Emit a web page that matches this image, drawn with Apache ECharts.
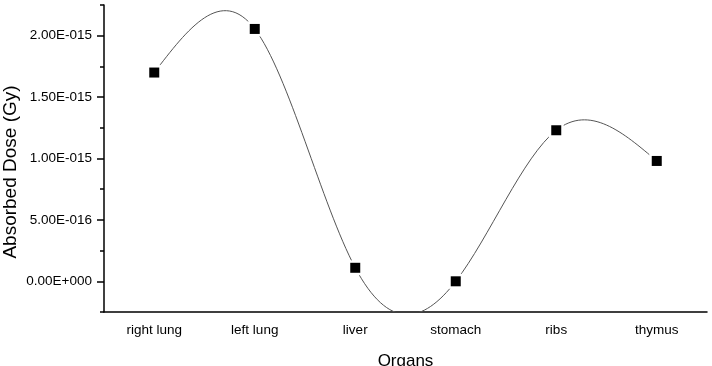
<!DOCTYPE html>
<html>
<head>
<meta charset="utf-8">
<script src="https://cdn.jsdelivr.net/npm/echarts@6/dist/echarts.min.js"></script>
<style>
  html, body { margin: 0; padding: 0; background: #fff; }
  #chart { width: 712px; height: 366px; }
</style>
</head>
<body>
<div id="chart"></div>
<script>
// organs along the x axis
const organs = ['right lung', 'left lung', 'liver', 'stomach', 'ribs', 'thymus'];
// absorbed dose per organ (Gy)
const dose = [1.70e-15, 2.055e-15, 1.1e-16, 0, 1.23e-15, 0.98e-15];
// labelled (major) and unlabelled (minor) y ticks
const majorTicks = [0, 5e-16, 1e-15, 1.5e-15, 2e-15];
const minorTicks = [-2.5e-16, 2.5e-16, 7.5e-16, 1.25e-15, 1.75e-15, 2.25e-15];

const yMin = -2.5e-16;
const yMax = 2.25e-15;
const font = '"Liberation Sans", Arial, sans-serif';

// Origin style: 2.00E-015
function fmtExp(v) {
  if (Math.abs(v) < 1e-30) return '0.00E+000';
  const parts = v.toExponential(2).split('e');
  const e = parseInt(parts[1], 10);
  const sign = e < 0 ? '-' : '+';
  return parts[0].toUpperCase() + 'E' + sign + String(Math.abs(e)).padStart(3, '0');
}

// natural cubic spline through the pixel points (equal x spacing),
// returned as bezier segments
function splineSegments(pts) {
  const n = pts.length;
  const ys = pts.map(p => p[1]);
  const M = new Array(n).fill(0);
  if (n > 2) {
    const c = [], d = [];
    for (let i = 1; i < n - 1; i++) {
      const rhs = 6 * (ys[i + 1] - 2 * ys[i] + ys[i - 1]);
      if (i === 1) {
        c[i] = 1 / 4;
        d[i] = rhs / 4;
      } else {
        const den = 4 - c[i - 1];
        c[i] = 1 / den;
        d[i] = (rhs - d[i - 1]) / den;
      }
    }
    M[n - 2] = d[n - 2];
    for (let i = n - 3; i >= 1; i--) M[i] = d[i] - c[i] * M[i + 1];
  }
  const segs = [];
  for (let i = 0; i < n - 1; i++) {
    const p0 = pts[i], p1 = pts[i + 1];
    const dx = p1[0] - p0[0];
    const dy = p1[1] - p0[1];
    const s0 = dy - (2 * M[i] + M[i + 1]) / 6;
    const s1 = dy + (M[i] + 2 * M[i + 1]) / 6;
    segs.push({
      x1: p0[0], y1: p0[1],
      cpx1: p0[0] + dx / 3, cpy1: p0[1] + s0 / 3,
      cpx2: p1[0] - dx / 3, cpy2: p1[1] - s1 / 3,
      x2: p1[0], y2: p1[1]
    });
  }
  return segs;
}

const chart = echarts.init(document.getElementById('chart'));

const option = {
  backgroundColor: '#fff',
  animation: false,
  grid: { left: 104, right: 5, top: 5, bottom: 54, containLabel: false, outerBoundsMode: 'none' },
  xAxis: [
    {
      type: 'category',
      data: organs,
      boundaryGap: true,
      name: 'Organs',
      nameLocation: 'middle',
      nameGap: 41,
      nameTextStyle: { fontFamily: font, fontSize: 17, color: '#000' },
      axisLine: { onZero: false, lineStyle: { color: '#000', width: 1.5 } },
      axisTick: { alignWithLabel: true, length: 7, lineStyle: { color: '#000', width: 1.5 } },
      axisLabel: { margin: 11, fontFamily: font, fontSize: 13.5, color: '#000' },
      splitLine: { show: false }
    },
    {
      type: 'category',
      data: organs,
      position: 'bottom',
      boundaryGap: true,
      axisLine: { show: false, onZero: false },
      axisTick: { length: 4, lineStyle: { color: '#000', width: 1.5 } },
      axisLabel: { show: false },
      splitLine: { show: false }
    }
  ],
  yAxis: [
    {
      type: 'value',
      min: yMin,
      max: yMax,
      axisLine: { show: true, onZero: false, lineStyle: { color: '#000', width: 1.5 } },
      axisTick: { show: true, length: 7, customValues: majorTicks, lineStyle: { color: '#000', width: 1.5 } },
      axisLabel: {
        customValues: majorTicks,
        margin: 12,
        fontFamily: font,
        fontSize: 13.5,
        color: '#000',
        formatter: fmtExp
      },
      splitLine: { show: false }
    },
    {
      type: 'value',
      min: yMin,
      max: yMax,
      position: 'left',
      axisLine: { show: false, onZero: false },
      axisTick: { show: true, length: 4, customValues: minorTicks, lineStyle: { color: '#000', width: 1.5 } },
      axisLabel: { show: false },
      splitLine: { show: false }
    }
  ],
  graphic: [
    {
      type: 'text',
      x: 11,
      y: 172,
      rotation: Math.PI / 2,
      style: {
        text: 'Absorbed Dose (Gy)',
        font: '19px "Liberation Sans", Arial, sans-serif',
        fill: '#000',
        align: 'center',
        verticalAlign: 'middle'
      }
    }
  ],
  series: [
    {
      // spline curve through the points
      name: 'spline',
      type: 'custom',
      xAxisIndex: 0,
      yAxisIndex: 0,
      data: dose.map((v, i) => [i, v]),
      encode: { x: 0, y: 1 },
      z: 2,
      renderItem: function (params, api) {
        if (params.dataIndex !== 0) return null;
        const pts = dose.map((v, i) => api.coord([i, v]));
        const cs = params.coordSys;
        return {
          type: 'group',
          clipPath: { type: 'rect', shape: { x: cs.x, y: cs.y, width: cs.width, height: cs.height } },
          children: splineSegments(pts).map(s => ({
            type: 'bezierCurve',
            shape: s,
            style: { stroke: '#555', lineWidth: 1, fill: null }
          }))
        };
      }
    },
    {
      // white halo so the curve stops short of each marker
      name: 'halo',
      type: 'scatter',
      data: dose,
      symbol: 'rect',
      symbolSize: 15,
      itemStyle: { color: '#fff', opacity: 1 },
      z: 3,
      silent: true
    },
    {
      name: 'Absorbed Dose',
      type: 'scatter',
      data: dose,
      symbol: 'rect',
      symbolSize: 10,
      itemStyle: { color: '#000', opacity: 1 },
      z: 4
    }
  ]
};

chart.setOption(option);
</script>
</body>
</html>
